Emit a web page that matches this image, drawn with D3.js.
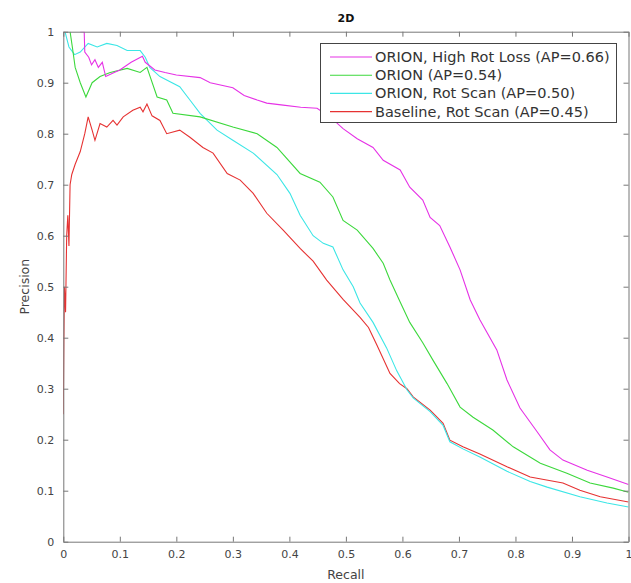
<!DOCTYPE html>
<html><head><meta charset="utf-8">
<script src="https://cdn.jsdelivr.net/npm/d3@7"></script>
<style>body{margin:0;background:#fff}svg{display:block}text{font-family:"DejaVu Sans",sans-serif}</style>
</head><body>
<script>
const title = "2D";
const xLabel = "Recall";
const yLabel = "Precision";
const xTicks = [0,0.1,0.2,0.3,0.4,0.5,0.6,0.7,0.8,0.9,1];
const yTicks = [0,0.1,0.2,0.3,0.4,0.5,0.6,0.7,0.8,0.9,1];
const seriesNames = ["ORION, High Rot Loss (AP=0.66)","ORION (AP=0.54)","ORION, Rot Scan (AP=0.50)","Baseline, Rot Scan (AP=0.45)"];
const seriesColors = ["#e632e6","#3cd83c","#3ce6e6","#e63232"];

const highRotLoss = [[0.03,1.0],[0.037,1.0],[0.038,0.96],[0.045,0.95],[0.05,0.935],[0.056,0.945],[0.062,0.93],[0.069,0.94],[0.075,0.912],[0.09,0.92],[0.1,0.925],[0.12,0.94],[0.14,0.952],[0.145,0.94],[0.162,0.925],[0.18,0.92],[0.2,0.915],[0.242,0.91],[0.26,0.9],[0.3,0.89],[0.32,0.875],[0.343,0.866],[0.36,0.86],[0.389,0.856],[0.42,0.852],[0.449,0.85],[0.475,0.83],[0.495,0.81],[0.52,0.79],[0.548,0.773],[0.566,0.748],[0.596,0.729],[0.613,0.695],[0.636,0.67],[0.649,0.636],[0.666,0.62],[0.684,0.578],[0.702,0.533],[0.72,0.474],[0.737,0.435],[0.767,0.376],[0.785,0.317],[0.808,0.262],[0.838,0.216],[0.861,0.18],[0.884,0.16],[0.927,0.14],[0.962,0.127],[1.0,0.112]];
const orion = [[0.012,1.0],[0.016,0.97],[0.021,0.93],[0.03,0.9],[0.04,0.872],[0.051,0.9],[0.065,0.912],[0.083,0.92],[0.113,0.928],[0.136,0.92],[0.148,0.93],[0.166,0.872],[0.183,0.866],[0.194,0.84],[0.242,0.833],[0.3,0.813],[0.343,0.8],[0.378,0.773],[0.419,0.722],[0.454,0.705],[0.477,0.676],[0.495,0.63],[0.52,0.611],[0.548,0.575],[0.566,0.546],[0.578,0.513],[0.596,0.47],[0.613,0.43],[0.636,0.39],[0.654,0.356],[0.679,0.31],[0.702,0.264],[0.725,0.244],[0.76,0.219],[0.796,0.186],[0.844,0.154],[0.891,0.134],[0.932,0.115],[0.973,0.105],[1.0,0.097]];
const rotScan = [[0.003,1.0],[0.01,0.97],[0.02,0.955],[0.03,0.96],[0.044,0.977],[0.06,0.97],[0.077,0.977],[0.095,0.973],[0.113,0.963],[0.136,0.963],[0.145,0.95],[0.153,0.93],[0.171,0.912],[0.206,0.892],[0.224,0.866],[0.242,0.84],[0.272,0.807],[0.3,0.787],[0.336,0.762],[0.378,0.72],[0.401,0.683],[0.419,0.64],[0.442,0.6],[0.46,0.585],[0.477,0.578],[0.495,0.533],[0.513,0.5],[0.525,0.468],[0.548,0.43],[0.572,0.38],[0.59,0.335],[0.608,0.298],[0.619,0.282],[0.649,0.255],[0.672,0.228],[0.684,0.196],[0.707,0.182],[0.737,0.166],[0.785,0.138],[0.826,0.118],[0.856,0.107],[0.914,0.088],[0.962,0.076],[1.0,0.068]];
const baseline = [[0.0,0.25],[0.001,0.4],[0.002,0.5],[0.004,0.45],[0.006,0.6],[0.008,0.64],[0.01,0.58],[0.012,0.7],[0.015,0.72],[0.021,0.74],[0.03,0.765],[0.038,0.8],[0.044,0.833],[0.051,0.807],[0.056,0.787],[0.065,0.82],[0.077,0.813],[0.088,0.826],[0.095,0.817],[0.106,0.833],[0.123,0.846],[0.136,0.852],[0.141,0.843],[0.148,0.858],[0.157,0.835],[0.171,0.826],[0.183,0.8],[0.206,0.807],[0.224,0.793],[0.247,0.773],[0.265,0.762],[0.29,0.722],[0.313,0.709],[0.336,0.683],[0.36,0.644],[0.389,0.611],[0.419,0.575],[0.442,0.55],[0.466,0.513],[0.495,0.475],[0.525,0.44],[0.54,0.42],[0.555,0.385],[0.578,0.33],[0.595,0.31],[0.608,0.3],[0.619,0.284],[0.649,0.258],[0.672,0.232],[0.684,0.199],[0.707,0.186],[0.737,0.172],[0.785,0.147],[0.826,0.127],[0.884,0.115],[0.914,0.101],[0.95,0.088],[1.0,0.078]];
const seriesData = [highRotLoss, orion, rotScan, baseline];

const W = 631, H = 583;
const m = {left:63.3, right:631-628.5, top:31.7, bottom:583-541.7};
const svg = d3.select("body").append("svg").attr("width",W).attr("height",H);
const x = d3.scaleLinear().domain([0,1]).range([m.left, W-m.right]);
const y = d3.scaleLinear().domain([0,1]).range([H-m.bottom, m.top]);
const axisCol = "#777", textCol = "#444";

svg.append("defs").append("clipPath").attr("id","clip").append("rect")
  .attr("x",x(0)).attr("y",y(1)).attr("width",x(1)-x(0)).attr("height",y(0)-y(1));

const line = d3.line().x(d=>x(d[0])).y(d=>y(d[1]));
const g = svg.append("g").attr("clip-path","url(#clip)");
[3,2,1,0].forEach(i=>{
  g.append("path").datum(seriesData[i]).attr("d",line)
   .attr("fill","none").attr("stroke",seriesColors[i]).attr("stroke-width",1.1);
});

function styleAxis(sel){
  sel.selectAll(".domain").attr("stroke",axisCol);
  sel.selectAll(".tick line").attr("stroke",axisCol);
  sel.selectAll(".tick text").attr("fill",textCol).style("font-size","11px").style("font-family","DejaVu Sans");
}
const fmt = d => d===0?"0":(d===1?"1":String(d));
const xb = svg.append("g").attr("transform",`translate(0,${y(0)})`)
  .call(d3.axisBottom(x).tickValues(xTicks).tickFormat(fmt).tickSizeInner(-5).tickSizeOuter(0).tickPadding(9));
styleAxis(xb);
const yl = svg.append("g").attr("transform",`translate(${x(0)},0)`)
  .call(d3.axisLeft(y).tickValues(yTicks).tickFormat(fmt).tickSizeInner(-5).tickSizeOuter(0).tickPadding(9));
styleAxis(yl);
const xt = svg.append("g").attr("transform",`translate(0,${y(1)})`)
  .call(d3.axisTop(x).tickValues(xTicks).tickFormat("").tickSizeInner(-5).tickSizeOuter(0));
styleAxis(xt);
const yr = svg.append("g").attr("transform",`translate(${x(1)},0)`)
  .call(d3.axisRight(y).tickValues(yTicks).tickFormat("").tickSizeInner(-5).tickSizeOuter(0));
styleAxis(yr);

svg.append("text").attr("x",(x(0)+x(1))/2).attr("y",22).attr("text-anchor","middle")
  .style("font-size","11px").style("font-weight","bold").attr("fill","#111").text(title);
svg.append("text").attr("x",(x(0)+x(1))/2).attr("y",579).attr("text-anchor","middle")
  .style("font-size","12.5px").attr("fill",textCol).text(xLabel);
svg.append("text").attr("transform",`translate(29,${(y(0)+y(1))/2}) rotate(-90)`).attr("text-anchor","middle")
  .style("font-size","12.5px").attr("fill",textCol).text(yLabel);

// legend
const lg = svg.append("g");
lg.append("rect").attr("x",320.5).attr("y",43.5).attr("width",296).attr("height",79)
  .attr("fill","#fff").attr("stroke","#444").attr("stroke-width",1);
seriesNames.forEach((n,i)=>{
  const yy = 57 + i*18.2;
  lg.append("line").attr("x1",330).attr("x2",372).attr("y1",yy).attr("y2",yy)
    .attr("stroke",seriesColors[i]).attr("stroke-width",1.1);
  lg.append("text").attr("x",375).attr("y",yy+5).style("font-size","14.5px").attr("fill","#333").text(n);
});
</script>
</body></html>
